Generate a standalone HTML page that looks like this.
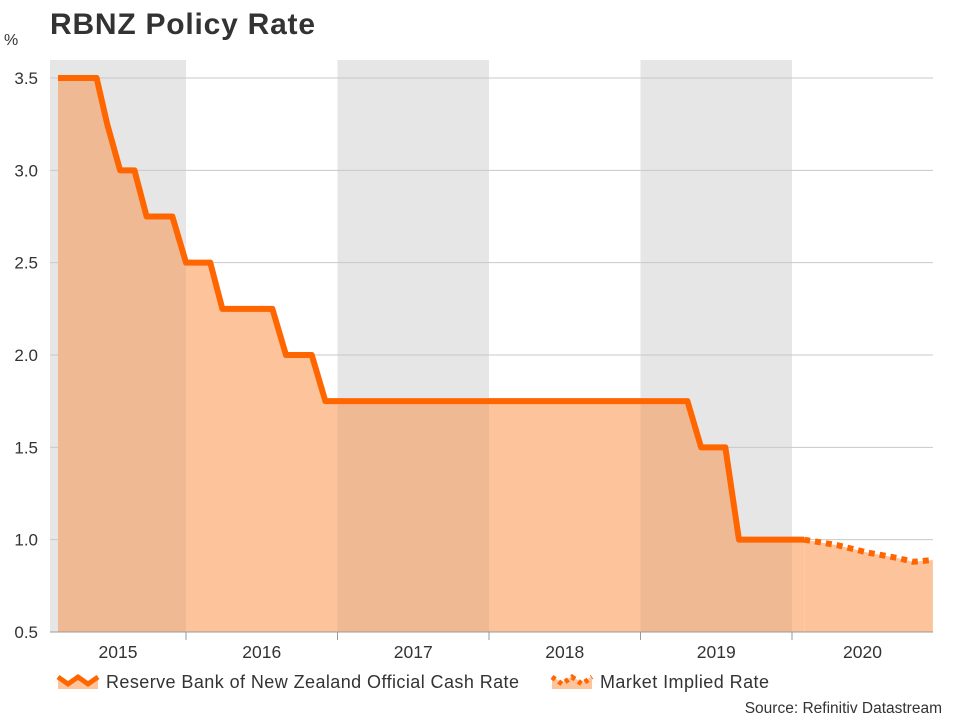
<!DOCTYPE html>
<html><head><meta charset="utf-8"><style>
body{margin:0;background:#fff;font-family:"Liberation Sans",sans-serif}
svg text{font-family:"Liberation Sans",sans-serif}
</style></head><body>
<svg id="c" width="960" height="720" xmlns="http://www.w3.org/2000/svg">
<text x="50" y="34" font-size="30" font-weight="bold" fill="#333" textLength="265">RBNZ Policy Rate</text>
<text x="4" y="45" font-size="16" fill="#333">%</text>
<g id="bands"></g><g id="grid"></g><g id="fills"></g><g id="over"></g><g id="lines"></g><g id="axes"></g>
<g>
<g>
<path d="M58 676 L68 683 L78 676 L88 683 L98 676 L98 689 L58 689Z" fill="#fdc49c"/>
<polyline points="58,677 68,684 78,677 88,684 98,677" fill="none" stroke="#ff6600" stroke-width="5"/>
<text x="106" y="688" font-size="18" fill="#333" textLength="413">Reserve Bank of New Zealand Official Cash Rate</text></g>
<g>
<path d="M552 676 L562 683 L572 676 L582 683 L592 676 L592 689 L552 689Z" fill="#fdc49c"/>
<polyline points="552,677 562,684 572,677 582,684 592,677" fill="none" stroke="#ff6600" stroke-width="5" stroke-dasharray="4 4"/>
<text x="600" y="688" font-size="18" fill="#333" textLength="169">Market Implied Rate</text></g>
</g>
<text x="942" y="713" font-size="15.5" fill="#333" text-anchor="end">Source: Refinitiv Datastream</text>
</svg>
<script>
const yTicks=[0.5,1.0,1.5,2.0,2.5,3.0,3.5];
const years=[2015,2016,2017,2018,2019,2020];
const shadedYears=[2015,2017,2019];
const ocrT=[2015.155,2015.41,2015.48,2015.565,2015.66,2015.74,2015.91,2016.0,2016.16,2016.24,2016.57,2016.66,2016.83,2016.92,2019.31,2019.4,2019.56,2019.65,2020.08];
const ocrV=[3.5,3.5,3.25,3.0,3.0,2.75,2.75,2.5,2.5,2.25,2.25,2.0,2.0,1.75,1.75,1.5,1.5,1.0,1.0];
const mktT=[2020.08,2020.3,2020.5,2020.7,2020.8,2020.93];
const mktV=[1.0,0.97,0.93,0.9,0.88,0.89];
const X0=50,X1=933,Y0=632,Y1=78;
const x=t=>Math.max(X0,Math.min(X1,186+(t-2016)*151.5));
const y=v=>Y0-(v-0.5)/3*(Y0-Y1);
const NS="http://www.w3.org/2000/svg";
function mk(tag,attrs,parent){const e=document.createElementNS(NS,tag);for(const k in attrs)e.setAttribute(k,attrs[k]);document.getElementById(parent).appendChild(e);return e;}
shadedYears.forEach(yr=>{const r=mk('rect',{x:x(yr),y:Y1-18,width:x(yr+1)-x(yr),height:Y0-Y1+18,fill:'#e6e6e6'},'bands');


const o=mk('rect',{x:x(yr),y:Y1-18,width:x(yr+1)-x(yr),height:Y0-Y1+18,fill:'rgba(0,0,0,0.055)','clip-path':'url(#areaClip)'},'over');

});
yTicks.forEach(v=>{const l=mk('line',{x1:X0,x2:X1,y1:y(v),y2:y(v),stroke:'#c8c8c8','stroke-width':1},'grid');


const t=mk('text',{x:38,y:y(v)+6,'font-size':17,fill:'#333','text-anchor':'end'},'axes');t.textContent=v.toFixed(1);

});
years.forEach(yr=>{if(yr>2015){const l=mk('line',{x1:x(yr),x2:x(yr),y1:Y0,y2:Y0+8,stroke:'#999'},'axes');

}
const c=(x(yr)+x(yr+1))/2;const t=mk('text',{x:c,y:658,'font-size':17.5,fill:'#333','text-anchor':'middle'},'axes');t.textContent=yr;

});
mk('line',{x1:X0,x2:X1,y1:Y0,y2:Y0,stroke:'#999'},'axes');
function pts(T,V){return T.map((t,i)=>x(t)+','+y(V[i])).join(' ');}
function area(T,V){return 'M'+x(T[0])+','+Y0+' L'+T.map((t,i)=>x(t)+','+y(V[i])).join(' L')+' L'+x(T[T.length-1])+','+Y0+'Z';}
const defs=document.createElementNS(NS,'defs');document.getElementById('c').appendChild(defs);
const cp=document.createElementNS(NS,'clipPath');cp.setAttribute('id','areaClip');defs.appendChild(cp);
[area(ocrT,ocrV),area(mktT,mktV)].forEach(d=>{const p=document.createElementNS(NS,'path');p.setAttribute('d',d);cp.appendChild(p);});
const fa=mk('path',{d:area(ocrT,ocrV),fill:'#fdc49c'},'fills');


const fb=mk('path',{d:area(mktT,mktV),fill:'#fdc49c'},'fills');


const la=mk('polyline',{points:pts(ocrT,ocrV),fill:'none',stroke:'#ff6600','stroke-width':6,'stroke-linejoin':'round'},'lines');


const lb=mk('polyline',{points:pts(mktT,mktV),fill:'none',stroke:'#ff6600','stroke-width':6,'stroke-dasharray':'6 5'},'lines');


</script>
</body></html>
